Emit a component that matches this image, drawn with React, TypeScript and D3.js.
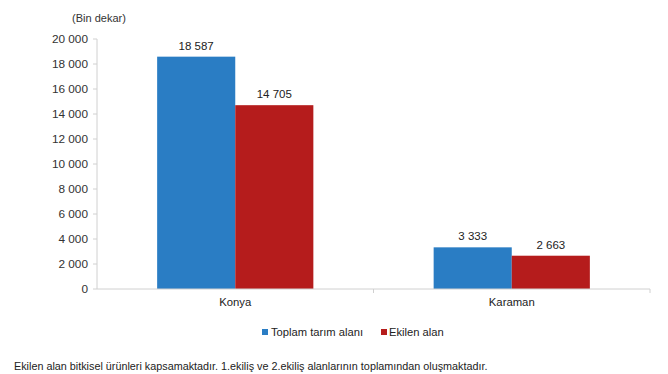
import React from "react";
import * as d3 from "d3";

const categories = ["Konya", "Karaman"];
const seriesNames = ["Toplam tarım alanı", "Ekilen alan"];
const toplam = [18587, 3333];
const ekilen = [14705, 2663];
const yTicks = [0, 2000, 4000, 6000, 8000, 10000, 12000, 14000, 16000, 18000, 20000];
const colors = ["#2a7dc4", "#b51c1c"];
const unitLabel = "(Bin dekar)";
const footnote = "Ekilen alan bitkisel ürünleri kapsamaktadır. 1.ekiliş ve 2.ekiliş alanlarının toplamından oluşmaktadır.";

const W = 668, H = 374;
const left = 97, right = 650, top = 39, bottom = 289;

const locale = d3.formatLocale({ decimal: ",", thousands: " ", grouping: [3], currency: ["", ""] });
const fmt = locale.format(",d");

export default function App() {
  const x = d3.scaleBand().domain(categories).range([left, right]).paddingInner(0).paddingOuter(0);
  const inner = d3.scaleBand().domain(seriesNames).range([0, x.bandwidth()]).paddingOuter(0.77).paddingInner(0);
  const y = d3.scaleLinear().domain([0, 20000]).range([bottom, top]);
  const series = [toplam, ekilen];
  const font = "'Liberation Sans', Arial, sans-serif";
  return (
    <svg width={W} height={H} style={{ position: "absolute", left: 0, top: 0, background: "#fff" }} fontFamily={font}>
      <rect width={W} height={H} fill="#fff" />
      <text x={99} y={22} textAnchor="middle" fontSize={11} fill="#333">{unitLabel}</text>
      {yTicks.map((t) => (
        <g key={t}>
          <line x1={left - 4} x2={left} y1={y(t)} y2={y(t)} stroke="#d0d0d0" />
          <text x={88} y={y(t)} dy="0.35em" textAnchor="end" fontSize={11.8} fill="#333">{fmt(t)}</text>
        </g>
      ))}
      <line x1={left} x2={left} y1={top} y2={bottom} stroke="#d0d0d0" />
      {categories.map((c, i) => (
        <g key={c}>
          {series.map((s, j) => {
            const bx = (x(c) as number) + (inner(seriesNames[j]) as number);
            const bw = inner.bandwidth();
            return (
              <g key={j}>
                <rect x={bx} y={y(s[i])} width={bw} height={bottom - y(s[i])} fill={colors[j]} />
                <text x={bx + bw / 2} y={y(s[i]) - 7} textAnchor="middle" fontSize={11.5} fill="#222">{fmt(s[i])}</text>
              </g>
            );
          })}
          <text x={(x(c) as number) + x.bandwidth() / 2} y={306} textAnchor="middle" fontSize={11.3} fill="#222">{c}</text>
        </g>
      ))}
      <line x1={left} x2={right} y1={bottom} y2={bottom} stroke="#d0d0d0" />
      {categories.map((c) => (
        <line key={c} x1={(x(c) as number) + x.bandwidth()} x2={(x(c) as number) + x.bandwidth()} y1={bottom} y2={bottom + 4} stroke="#d0d0d0" />
      ))}
      <g>
        <rect x={262} y={329} width={6} height={6} fill={colors[0]} />
        <text x={271} y={336} fontSize={11.2} fill="#222">{seriesNames[0]}</text>
        <rect x={381} y={329} width={6} height={6} fill={colors[1]} />
        <text x={389} y={336} fontSize={11.2} fill="#222">{seriesNames[1]}</text>
      </g>
      <text x={14} y={370} fontSize={10.8} fill="#222">{footnote}</text>
    </svg>
  );
}
